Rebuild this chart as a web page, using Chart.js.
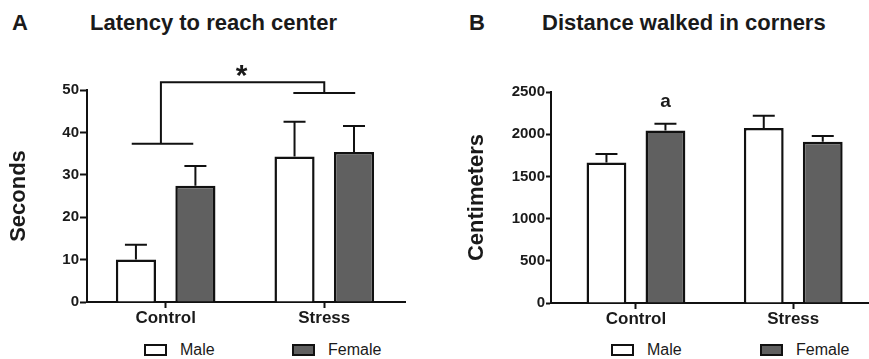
<!DOCTYPE html>
<html>
<head>
<meta charset="utf-8">
<script src="https://cdn.jsdelivr.net/npm/chart.js@4.4.0/dist/chart.umd.min.js"></script>
<style>
  html, body { margin: 0; padding: 0; background: #fff; overflow: hidden; width: 869px; height: 359px; }
  body { position: relative; font-family: "Liberation Sans", Arial, sans-serif; color: #1a1a1a; }
  .lbl { position: absolute; font-weight: bold; font-size: 22px; line-height: 22px; white-space: nowrap; }
  .box { position: absolute; width: 23px; height: 12px; box-sizing: border-box; border: 2px solid #111; }
  .leg { position: absolute; font-size: 16px; line-height: 16px; white-space: nowrap; }
  canvas { position: absolute; top: 0; }
</style>
</head>
<body>
<div class="lbl" style="left:12px; top:12px;">A</div>
<div class="lbl" style="left:90px; top:12px;">Latency to reach center</div>
<div class="lbl" style="left:469px; top:12px;">B</div>
<div class="lbl" style="left:542px; top:12px;">Distance walked in corners</div>

<canvas id="chartA" width="440" height="335" style="left:0px;"></canvas>
<canvas id="chartB" width="450" height="335" style="left:440px;"></canvas>

<div class="box" style="left:144px; top:344px; background:#fff;"></div>
<div class="leg" style="left:180px; top:342px;">Male</div>
<div class="box" style="left:292px; top:344px; background:#606060;"></div>
<div class="leg" style="left:328px; top:342px;">Female</div>

<div class="box" style="left:611px; top:344px; background:#fff;"></div>
<div class="leg" style="left:647px; top:342px;">Male</div>
<div class="box" style="left:760px; top:344px; background:#606060;"></div>
<div class="leg" style="left:796px; top:342px;">Female</div>

<script>
// data
const groupes = ["Control", "Stress"];
const seriesNames = ["Male", "Female"];

const latenceMale = [10.0, 34.3];
const latenceMaleSem = [3.5, 8.2];
const latenceFemale = [27.4, 35.4];
const latenceFemaleSem = [4.7, 6.1];

const distanceMale = [1666, 2073];
const distanceMaleSem = [99, 146];
const distanceFemale = [2045, 1911];
const distanceFemaleSem = [79, 67];

const latenceTicks = [0, 10, 20, 30, 40, 50];
const distanceTicks = [0, 500, 1000, 1500, 2000, 2500];

const textColor = "#1a1a1a";
const lineColor = "#111";
const fontFam = "'Liberation Sans', Arial, sans-serif";

function toPoints(values) {
  return values.map((v, i) => ({ x: i, y: v }));
}

// error bars (upper half only, with cap)
const errorBars = {
  id: "errorBars",
  afterDatasetsDraw(chart) {
    const ctx = chart.ctx;
    const yScale = chart.scales.y;
    ctx.save();
    ctx.strokeStyle = lineColor;
    ctx.lineWidth = 2;
    chart.data.datasets.forEach((ds, di) => {
      const meta = chart.getDatasetMeta(di);
      meta.data.forEach((bar, i) => {
        const top = yScale.getPixelForValue(ds.data[i].y + ds.sem[i]);
        const cap = 11;
        ctx.beginPath();
        ctx.moveTo(bar.x, bar.y);
        ctx.lineTo(bar.x, top);
        ctx.moveTo(bar.x - cap, top);
        ctx.lineTo(bar.x + cap, top);
        ctx.stroke();
      });
    });
    ctx.restore();
  }
};

// significance bracket + star on panel A
const bracketA = {
  id: "bracketA",
  afterDraw(chart) {
    const ctx = chart.ctx;
    const x = chart.scales.x, y = chart.scales.y;
    const px = (v) => x.getPixelForValue(v);
    const py = (v) => y.getPixelForValue(v);
    ctx.save();
    ctx.strokeStyle = lineColor;
    ctx.lineWidth = 2;
    ctx.beginPath();
    ctx.moveTo(px(-0.214), py(37.3));
    ctx.lineTo(px(0.174), py(37.3));
    ctx.moveTo(px(-0.03), py(37.3));
    ctx.lineTo(px(-0.03), py(51.8));
    ctx.lineTo(px(1.0), py(51.8));
    ctx.lineTo(px(1.0), py(49.3));
    ctx.moveTo(px(0.805), py(49.3));
    ctx.lineTo(px(1.195), py(49.3));
    ctx.stroke();
    ctx.fillStyle = textColor;
    ctx.font = "bold 30px " + fontFam;
    ctx.textAlign = "center";
    ctx.textBaseline = "middle";
    ctx.fillText("*", px(0.479), py(53.2));
    ctx.restore();
  }
};

// letter above the control female bar on panel B
const letterB = {
  id: "letterB",
  afterDraw(chart) {
    const ctx = chart.ctx;
    const bar = chart.getDatasetMeta(1).data[0];
    ctx.save();
    ctx.fillStyle = textColor;
    ctx.font = "bold 19px " + fontFam;
    ctx.textAlign = "center";
    ctx.textBaseline = "middle";
    ctx.fillText("a", bar.x, chart.scales.y.getPixelForValue(2385));
    ctx.restore();
  }
};

function makeChart(id, cfg) {
  const ctx = document.getElementById(id).getContext("2d");
  return new Chart(ctx, {
    type: "bar",
    data: {
      datasets: [
        {
          label: seriesNames[0],
          data: toPoints(cfg.male),
          sem: cfg.maleSem,
          backgroundColor: "#ffffff",
          borderColor: lineColor,
          borderWidth: 2.5,
        },
        {
          label: seriesNames[1],
          data: toPoints(cfg.female),
          sem: cfg.femaleSem,
          backgroundColor: "#606060",
          borderColor: lineColor,
          borderWidth: 2.5,
        },
      ],
    },
    options: {
      responsive: false,
      animation: false,
      devicePixelRatio: 1,
      layout: { padding: { top: cfg.padTop, right: cfg.padRight, left: 0, bottom: 0 } },
      datasets: { bar: { categoryPercentage: 0.75, barPercentage: 0.675 } },
      plugins: { legend: { display: false }, tooltip: { enabled: false } },
      scales: {
        x: {
          type: "linear",
          offset: false,
          min: cfg.xMin,
          max: cfg.xMax,
          afterBuildTicks: (s) => { s.ticks = groupes.map((g, i) => ({ value: i })); },
          afterFit: (s) => { s.height = cfg.xHeight; },
          ticks: {
            padding: 0,
            color: textColor,
            font: { family: fontFam, size: 17, weight: "bold" },
            callback: (v) => groupes[v],
          },
          grid: { offset: false, drawOnChartArea: false, drawTicks: true, tickLength: 6, tickWidth: 2, tickColor: lineColor },
          border: { display: true, width: 2, color: lineColor },
        },
        y: {
          min: 0,
          max: cfg.yTicks[cfg.yTicks.length - 1],
          afterBuildTicks: (s) => { s.ticks = cfg.yTicks.map((v) => ({ value: v })); },
          afterFit: (s) => { s.width = cfg.yWidth; },
          ticks: {
            padding: 1,
            color: textColor,
            font: { family: fontFam, size: 15, weight: "bold" },
            callback: (v) => String(v),
          },
          grid: { drawOnChartArea: false, drawTicks: true, tickLength: cfg.yTick, tickWidth: 2, tickColor: lineColor },
          border: { display: true, width: 2, color: lineColor },
          title: {
            display: true,
            text: cfg.yTitle,
            color: textColor,
            font: { family: fontFam, size: 22, weight: "bold" },
            padding: { top: cfg.titlePad, bottom: 0 },
          },
        },
      },
    },
    plugins: cfg.plugins,
  });
}

makeChart("chartA", {
  male: latenceMale, maleSem: latenceMaleSem,
  female: latenceFemale, femaleSem: latenceFemaleSem,
  yTicks: latenceTicks, yTitle: "Seconds",
  padTop: 90, padRight: 35, yWidth: 87, xHeight: 33, yTick: 7, titlePad: 6,
  xMin: -0.496, xMax: 1.509,
  plugins: [errorBars, bracketA],
});

makeChart("chartB", {
  male: distanceMale, maleSem: distanceMaleSem,
  female: distanceFemale, femaleSem: distanceFemaleSem,
  yTicks: distanceTicks, yTitle: "Centimeters",
  padTop: 92, padRight: 0, yWidth: 111, xHeight: 32, yTick: 5, titlePad: 24,
  xMin: -0.54, xMax: 1.615,
  plugins: [errorBars, letterB],
});
</script>
</body>
</html>
